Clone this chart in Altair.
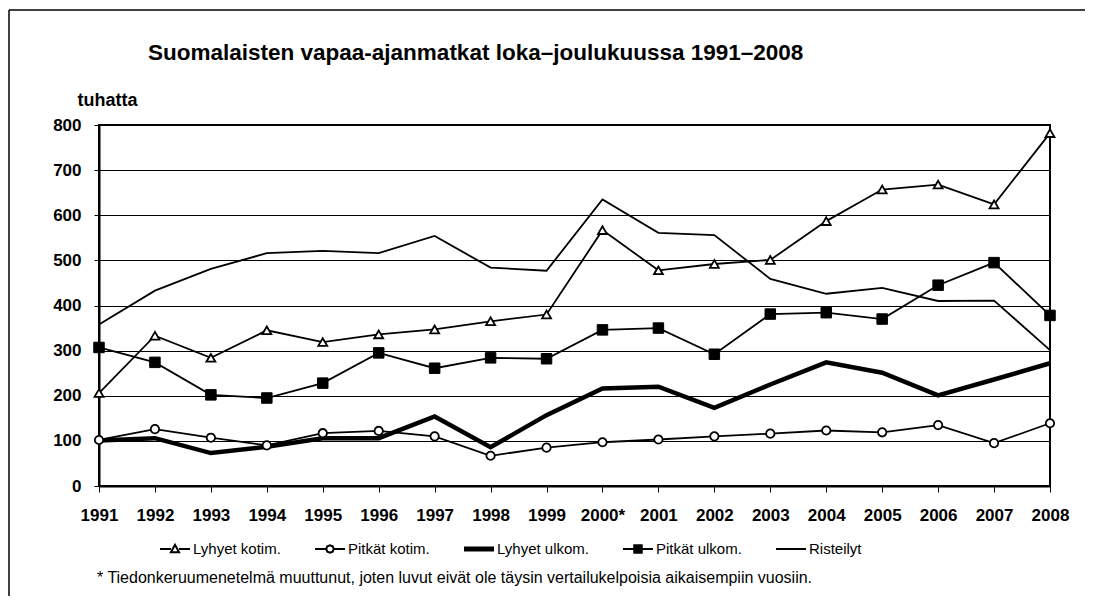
import altair as alt
import pandas as pd

years = ["1991", "1992", "1993", "1994", "1995", "1996", "1997", "1998", "1999",
         "2000*", "2001", "2002", "2003", "2004", "2005", "2006", "2007", "2008"]
series_names = ["Lyhyet kotim.", "Pitkät kotim.", "Lyhyet ulkom.", "Pitkät ulkom.", "Risteilyt"]

lyhyet_kotim = [206, 333, 284, 345, 319, 336, 347, 365, 380, 567, 478, 492, 501, 587, 657, 668, 624, 782]
pitkat_kotim = [102, 126, 107, 90, 117, 122, 110, 67, 85, 97, 103, 110, 116, 123, 119, 135, 95, 139]
lyhyet_ulkom = [101, 106, 73, 87, 106, 106, 154, 86, 157, 216, 220, 173, 225, 274, 251, 201, 236, 272]
pitkat_ulkom = [307, 274, 202, 195, 228, 295, 261, 284, 282, 346, 350, 292, 381, 384, 370, 445, 495, 378]
risteilyt = [358, 433, 481, 516, 521, 516, 554, 484, 477, 635, 561, 556, 459, 426, 439, 410, 411, 301]

title_text = "Suomalaisten vapaa-ajanmatkat loka\u2013joulukuussa 1991\u20132008"
unit_text = "tuhatta"
footnote_text = "* Tiedonkeruumenetelmä muuttunut, joten luvut eivät ole täysin vertailukelpoisia aikaisempiin vuosiin."

rows = []
for name, vals in zip(series_names, [lyhyet_kotim, pitkat_kotim, lyhyet_ulkom, pitkat_ulkom, risteilyt]):
    for yr, v in zip(years, vals):
        rows.append({"year": yr, "series": name, "value": v})
df = pd.DataFrame(rows)

FONT = "Liberation Sans"
W, H = 951, 361

x_enc = alt.X("year:N", sort=years,
              scale=alt.Scale(type="point", padding=0, domain=years),
              axis=alt.Axis(title=None, labelAngle=0, labelFont=FONT, labelFontSize=17,
                            labelFontWeight="bold", labelColor="black", tickColor="black",
                            tickSize=6, tickWidth=1, domainColor="black", domainWidth=2,
                            labelPadding=15, grid=False))
y_enc = alt.Y("value:Q", scale=alt.Scale(domain=[0, 800], nice=False),
              axis=alt.Axis(values=list(range(0, 801, 100)), title=unit_text, titleAngle=0,
                            titleX=-22, titleY=-16, titleAlign="left", titleBaseline="bottom",
                            titleFont=FONT, titleFontSize=18, titleFontWeight="bold",
                            titleColor="black", labelFont=FONT, labelFontSize=17,
                            labelFontWeight="bold", labelColor="black", grid=True,
                            gridColor="black", gridWidth=1, tickColor="black", tickSize=5,
                            domainColor="black", domainWidth=2, labelPadding=13))

base = alt.Chart(df)

line_widths = {"Lyhyet ulkom.": 4.5}
line_layers = [
    base.transform_filter(alt.datum.series == s).mark_line(
        color="black", strokeWidth=line_widths.get(s, 1.8)).encode(x=x_enc, y=y_enc)
    for s in series_names
]

tri = base.transform_filter(alt.datum.series == "Lyhyet kotim.").mark_point(
    shape="triangle-up", size=80, filled=True, fill="white", stroke="black",
    strokeWidth=1.8, opacity=1).encode(x=x_enc, y=y_enc)
circ = base.transform_filter(alt.datum.series == "Pitkät kotim.").mark_point(
    shape="circle", size=70, filled=True, fill="white", stroke="black",
    strokeWidth=1.8, opacity=1).encode(x=x_enc, y=y_enc)
sq = base.transform_filter(alt.datum.series == "Pitkät ulkom.").mark_point(
    shape="square", size=110, filled=True, fill="black", stroke="black",
    strokeWidth=1, opacity=1).encode(x=x_enc, y=y_enc)

# legend symbols drawn with strokes only (line + marker glyph)
legend_paths = [
    "M-1,0H-0.27M0.27,0H1M-0.27,0.22L0,-0.28L0.27,0.22Z",
    "M-1,0H-0.25M0.25,0H1M0.25,0L0.18,0.18L0,0.25L-0.18,0.18L-0.25,0L-0.18,-0.18L0,-0.25L0.18,-0.18Z",
    "M-1,-0.1H1M-1,0H1M-1,0.1H1",
    "M-1,0H1M-0.25,-0.22H0.25M-0.25,-0.11H0.25M-0.25,0.11H0.25M-0.25,0.22H0.25M-0.25,-0.25H0.25V0.25H-0.25Z",
    "M-1,0H1",
]

leg = alt.Legend(orient="none", legendX=60, legendY=408, direction="horizontal",
                 title=None, symbolSize=900, symbolStrokeWidth=2, symbolStrokeColor="black",
                 symbolFillColor="white", symbolOpacity=1, labelFont=FONT, labelFontSize=15,
                 labelColor="black", columnPadding=30, labelOffset=2)

legend_layer = base.mark_point(color="black", size=0, opacity=1, strokeWidth=2).encode(
    x=x_enc, y=y_enc,
    shape=alt.Shape("series:N", scale=alt.Scale(domain=series_names, range=legend_paths),
                    legend=leg))

one = pd.DataFrame({"t": [0]})
title_mark = alt.Chart(pd.DataFrame({"t": [title_text]})).mark_text(
    font=FONT, fontSize=22.5, fontWeight="bold", color="black", align="left",
    baseline="middle").encode(text="t:N", x=alt.value(49), y=alt.value(-72))
foot_mark = alt.Chart(pd.DataFrame({"t": [footnote_text]})).mark_text(
    font=FONT, fontSize=16, color="black", align="left",
    baseline="middle").encode(text="t:N", x=alt.value(-2), y=alt.value(453))

border_left = alt.Chart(one).mark_rule(color="black", strokeWidth=1.5).encode(
    x=alt.value(-90), y=alt.value(-115), y2=alt.value(480))
border_top = alt.Chart(one).mark_rule(color="black", strokeWidth=1.5).encode(
    x=alt.value(-90), x2=alt.value(1000), y=alt.value(-115))

chart = alt.layer(*line_layers, tri, circ, sq, legend_layer, title_mark, foot_mark,
                  border_left, border_top).properties(
    width=W, height=H,
    autosize=alt.AutoSizeParams(type="none"),
    padding={"left": 91, "top": 117, "right": 35, "bottom": 110},
    background="white",
).configure_view(stroke="black", strokeWidth=2)

chart.save("out.html", embed_options={"renderer": "svg", "actions": False})
